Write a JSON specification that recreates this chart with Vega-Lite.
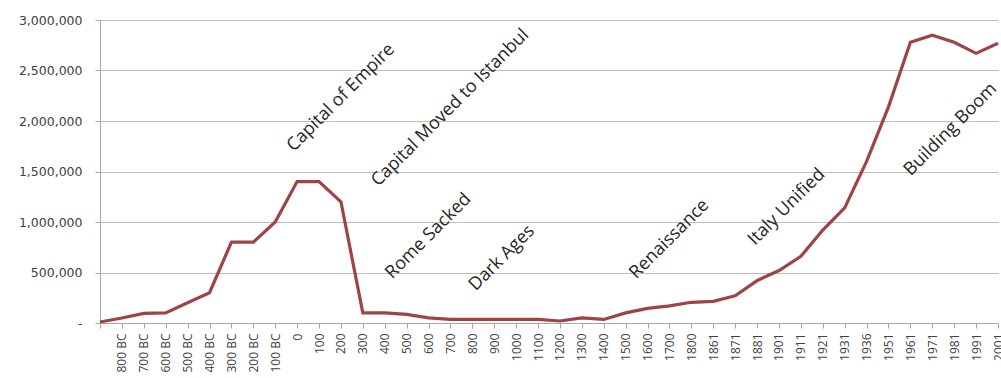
{
  "$schema": "https://vega.github.io/schema/vega-lite/v6.json",
  "autosize": {"type": "none"},
  "width": 898,
  "height": 303,
  "padding": {"left": 100, "top": 20, "right": 3, "bottom": 55},
  "background": "white",
  "config": {"view": {"stroke": null}, "font": "Open Sans"},
  "datasets": {
    "pop": [
      {"period": "900 BC", "population": 10000},
      {"period": "800 BC", "population": 50000},
      {"period": "700 BC", "population": 95000},
      {"period": "600 BC", "population": 100000},
      {"period": "500 BC", "population": 200000},
      {"period": "400 BC", "population": 300000},
      {"period": "300 BC", "population": 800000},
      {"period": "200 BC", "population": 800000},
      {"period": "100 BC", "population": 1000000},
      {"period": "0", "population": 1400000},
      {"period": "100", "population": 1400000},
      {"period": "200", "population": 1200000},
      {"period": "300", "population": 100000},
      {"period": "400", "population": 100000},
      {"period": "500", "population": 85000},
      {"period": "600", "population": 50000},
      {"period": "700", "population": 35000},
      {"period": "800", "population": 35000},
      {"period": "900", "population": 35000},
      {"period": "1000", "population": 35000},
      {"period": "1100", "population": 35000},
      {"period": "1200", "population": 20000},
      {"period": "1300", "population": 50000},
      {"period": "1400", "population": 35000},
      {"period": "1500", "population": 100000},
      {"period": "1600", "population": 145000},
      {"period": "1700", "population": 170000},
      {"period": "1800", "population": 205000},
      {"period": "1861", "population": 215000},
      {"period": "1871", "population": 270000},
      {"period": "1881", "population": 420000},
      {"period": "1901", "population": 520000},
      {"period": "1911", "population": 660000},
      {"period": "1921", "population": 920000},
      {"period": "1931", "population": 1140000},
      {"period": "1936", "population": 1600000},
      {"period": "1951", "population": 2140000},
      {"period": "1961", "population": 2780000},
      {"period": "1971", "population": 2850000},
      {"period": "1981", "population": 2780000},
      {"period": "1991", "population": 2670000},
      {"period": "2001", "population": 2770000}
    ],
    "notes": [
      {"period": "200", "population": 2230000, "note": "Capital of Empire"},
      {"period": "700", "population": 2130000, "note": "Capital Moved to Istanbul"},
      {"period": "600", "population": 860000, "note": "Rome Sacked"},
      {"period": "1700", "population": 830000, "note": "Renaissance"}
    ],
    "notesHalf": [
      {"period": "900", "population": 565000, "note": "Dark Ages"},
      {"period": "1901", "population": 1070000, "note": "Italy Unified"}
    ],
    "notesEdge": [
      {"period": "1981", "population": 1950000, "note": "Building Boom"}
    ]
  },
  "encoding": {
    "x": {
      "field": "period",
      "type": "ordinal",
      "scale": {"type": "point", "padding": 0, "domain": ["900 BC","800 BC","700 BC","600 BC","500 BC","400 BC","300 BC","200 BC","100 BC","0","100","200","300","400","500","600","700","800","900","1000","1100","1200","1300","1400","1500","1600","1700","1800","1861","1871","1881","1901","1911","1921","1931","1936","1951","1961","1971","1981","1991","2001"]},
      "axis": {
        "title": null,
        "labelAngle": -90,
        "labelExpr": "datum.value == '900 BC' ? '' : datum.value",
        "labelFontSize": 12,
        "labelColor": "#404040",
        "labelPadding": 5,
        "labelOverlap": false,
        "labelBound": false,
        "domainColor": "#a6a6a6",
        "tickColor": "#a6a6a6",
        "tickSize": 5,
        "grid": false
      }
    },
    "y": {
      "field": "population",
      "type": "quantitative",
      "scale": {"domain": [0, 3000000], "nice": false},
      "axis": {
        "title": null,
        "values": [0, 500000, 1000000, 1500000, 2000000, 2500000, 3000000],
        "labelExpr": "datum.value == 0 ? '-' : format(datum.value, ',')",
        "labelFont": "DejaVu Sans",
        "labelFontSize": 12.5,
        "labelColor": "#404040",
        "labelPadding": 13,
        "domainColor": "#a6a6a6",
        "tickColor": "#a6a6a6",
        "tickSize": 5,
        "gridColor": "#bdbdbd",
        "gridWidth": 1.2
      }
    }
  },
  "layer": [
    {
      "data": {"name": "pop"},
      "mark": {"type": "line", "color": "#9c4446", "strokeWidth": 3.2, "strokeJoin": "miter"}
    },
    {
      "data": {"name": "notes"},
      "mark": {"type": "text", "angle": -45, "align": "center", "baseline": "middle", "fontSize": 18, "font": "Open Sans", "color": "#262626"},
      "encoding": {"text": {"field": "note"}}
    },
    {
      "data": {"name": "notesHalf"},
      "mark": {"type": "text", "angle": -45, "align": "center", "baseline": "middle", "dx": 11, "fontSize": 18, "font": "Open Sans", "color": "#262626"},
      "encoding": {"text": {"field": "note"}}
    },
    {
      "data": {"name": "notesEdge"},
      "mark": {"type": "text", "angle": -45, "align": "center", "baseline": "middle", "dx": -5, "fontSize": 18, "font": "Open Sans", "color": "#262626"},
      "encoding": {"text": {"field": "note"}}
    }
  ]
}
